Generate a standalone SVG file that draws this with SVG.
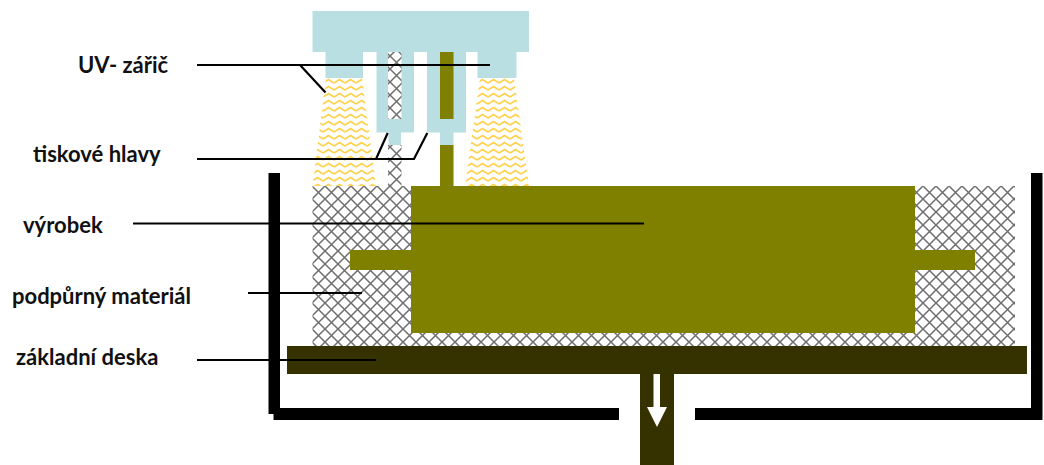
<svg xmlns="http://www.w3.org/2000/svg" width="1044" height="465" viewBox="0 0 1044 465">
<style>
text{font-family:"Lato","Carlito","Liberation Sans",sans-serif;font-weight:700;font-size:22px;fill:#111}
.uv{fill:#b9dfe3}.olive{fill:#808000}.dark{fill:#363200}.wall{fill:#000}
.hatch{fill:url(#cross)}.rays{fill:url(#zig)}
.lead{fill:none;stroke:#000;stroke-width:2.2}
</style>
<defs>
<pattern id="cross" width="13" height="13" patternUnits="userSpaceOnUse" x="312" y="186">
<rect width="13" height="13" fill="#fff"/>
<path d="M0 0L13 13M13 0L0 13" stroke="#6e6e6e" stroke-width="1.5" fill="none"/>
</pattern>
<pattern id="zig" width="11" height="7" patternUnits="userSpaceOnUse" x="312" y="78">
<rect width="11" height="7" fill="#fff"/>
<path d="M0 5L5.5 1.5L11 5" stroke="#ffd24d" stroke-width="1.6" fill="none"/>
</pattern>
</defs>
<g id="vat">
<rect class="wall" x="268.500" y="173" width="11.500" height="241"/>
<rect class="wall" x="273.500" y="408" width="345.500" height="12"/>
<rect class="wall" x="695" y="408" width="343" height="12"/>
<rect class="wall" x="1031" y="173" width="11.500" height="247"/>
</g>
<g id="rays">
<path class="rays" d="M326 78H362L376 186H312.500Z"/>
<path class="rays" d="M480 78H514L529 186H465Z"/>
</g>
<g id="uv-lamp">
<path class="uv" d="M312.500 11H529V52H516.500V78H477.500V52H363V78H325.500V52H312.500Z"/>
</g>
<g id="head-support">
<path class="uv" d="M376.500 52H414V132.500H401V145H388.500V132.500H376.500Z"/>
<rect class="hatch" x="388" y="52" width="13.500" height="67"/>
<rect class="hatch" x="388" y="145" width="13.500" height="41"/>
</g>
<g id="head-model">
<path class="uv" d="M427 52H466V132.500H453.500V145H440V132.500H427Z"/>
<rect class="olive" x="440" y="52" width="13.500" height="67"/>
<rect class="olive" x="440" y="145" width="13.500" height="41"/>
</g>
<g id="support">
<rect class="hatch" x="312.500" y="186" width="702.500" height="160"/>
</g>
<g id="product">
<rect class="olive" x="411" y="186" width="504" height="147"/>
<rect class="olive" x="350" y="250" width="61" height="20"/>
<rect class="olive" x="915" y="250" width="60" height="20"/>
</g>
<g id="plate">
<rect class="dark" x="287" y="346" width="740" height="28"/>
<rect class="dark" x="640" y="374" width="34" height="91"/>
<path fill="#fff" d="M653.500 374H660V407H667L657 427L647 407H653.500Z"/>
</g>
<g id="connectors">
<path class="lead" d="M197 65H490M300 65L325.500 92.500"/>
<path class="lead" d="M197 159H414L427.300 133M376 159L387.700 133"/>
<path class="lead" d="M133 223.500H644"/>
<path class="lead" d="M248 293H362"/>
<path class="lead" d="M197 360H376"/>
</g>
<g id="labels">
<text x="78" y="73">UV- zářič</text>
<text x="33" y="162">tiskové hlavy</text>
<text x="23" y="233">výrobek</text>
<text x="12" y="304">podpůrný materiál</text>
<text x="16" y="365">základní deska</text>
</g>
</svg>
